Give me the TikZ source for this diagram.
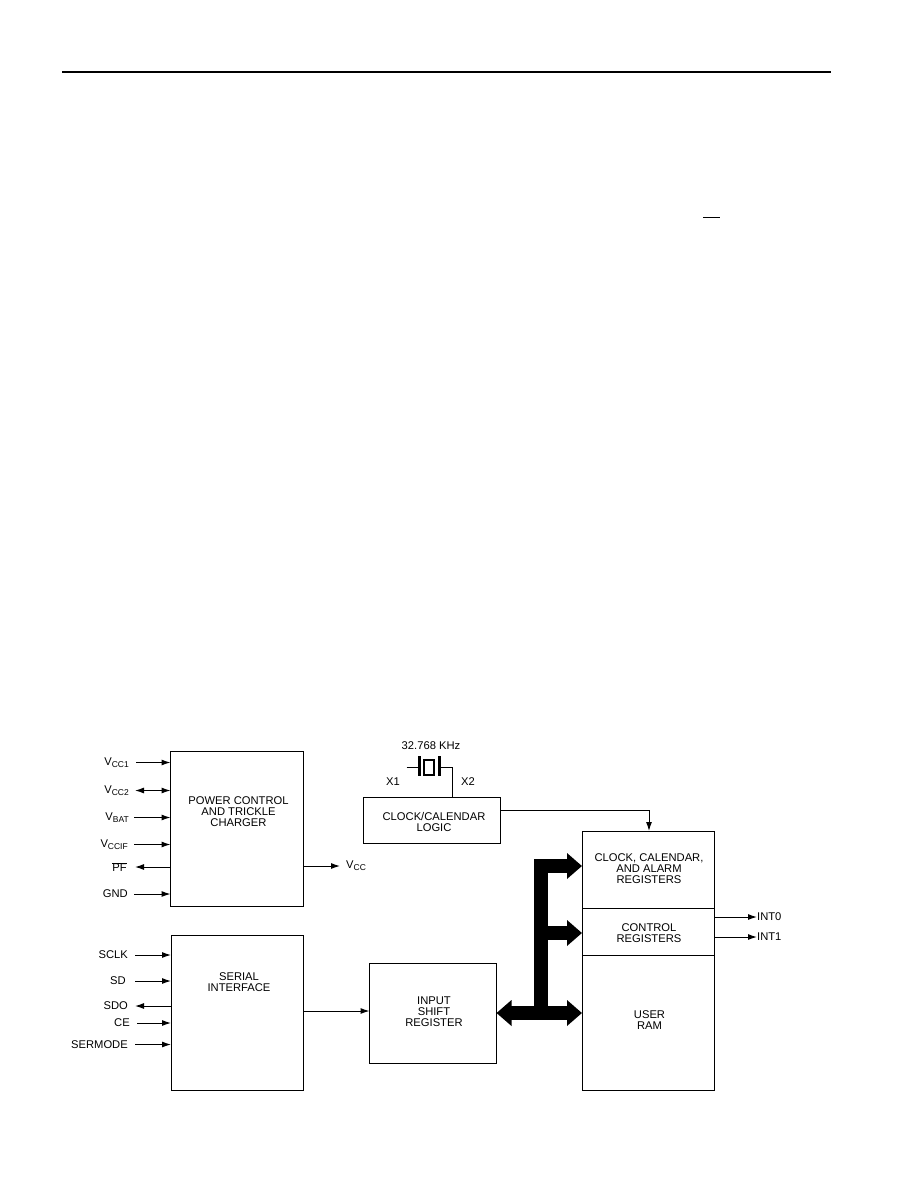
\documentclass[tikz,border=0pt]{standalone}
\usepackage{fontspec}
\setmainfont{Liberation Sans}
\usetikzlibrary{arrows.meta}
\newcommand{\txt}{\fontsize{11.2bp}{11bp}\selectfont}
\newcommand{\vsub}[1]{V\raisebox{-2.2bp}{\fontsize{8.5bp}{8.5bp}\selectfont #1}}
\tikzset{
  blockbox/.style={draw=black,line width=1bp,anchor=north west,inner sep=0pt,outer sep=0pt},
  blocktext/.style={align=center,font=\txt,inner sep=0pt},
  pinlabel/.style={anchor=east,font=\txt,inner sep=0pt},
  outlabel/.style={anchor=west,font=\txt,inner sep=0pt},
  wire/.style={line width=1bp,draw=black},
  pinin/.style={wire,-{Latex[length=9bp,width=6bp]}},
  pinboth/.style={wire,{Latex[length=9bp,width=6bp]}-{Latex[length=9bp,width=6bp]}},
  bus/.style={line width=14bp,draw=black,line join=miter},
  bushead/.style={-{Triangle[length=15bp,width=25bp]}},
  busheads/.style={{Triangle[length=15bp,width=25bp]}-{Triangle[length=15bp,width=25bp]}},
}
\begin{document}
\begin{tikzpicture}[x=1bp,y=-1bp]
\useasboundingbox (0,0) rectangle (918,1188);
\fill[white] (0,0) rectangle (918,1188);
% page rules
\coordinate (ruleL) at (62,72);
\coordinate (ruleR) at (831,72);
\draw[line width=2bp] (ruleL) -- (ruleR);
\coordinate (barL) at (703,217);
\coordinate (barR) at (720,217);
\draw[line width=1bp] (barL) -- (barR);
% blocks
\node[blockbox,minimum width=133bp,minimum height=155bp] (power) at (170.5,751.5) {};
\node[blockbox,minimum width=132bp,minimum height=155bp] (serial) at (171,935) {};
\node[blockbox,minimum width=137bp,minimum height=46bp] (clock) at (363.5,797) {};
\node[blockbox,minimum width=127bp,minimum height=100bp] (shift) at (369.5,963) {};
\node[blockbox,minimum width=132bp,minimum height=77.5bp] (regs) at (582,831) {};
\node[blockbox,minimum width=132bp,minimum height=46.5bp] (ctrl) at (582,908.5) {};
\node[blockbox,minimum width=132bp,minimum height=135bp] (ram) at (582,955) {};
% block texts
\node[blocktext] (powertext) at (238.5,811.5) {POWER CONTROL\\AND TRICKLE\\CHARGER};
\node[blocktext] (serialtext) at (239,982) {SERIAL\\INTERFACE};
\node[blocktext] (clocktext) at (434,822) {CLOCK/CALENDAR\\LOGIC};
\node[blocktext] (shifttext) at (434,1012) {INPUT\\SHIFT\\REGISTER};
\node[blocktext] (regstext) at (649,869) {CLOCK, CALENDAR,\\AND ALARM\\REGISTERS};
\node[blocktext] (ctrltext) at (649,933) {CONTROL\\REGISTERS};
\node[blocktext] (ramtext) at (649.5,1020) {USER\\RAM};
% power pins
\node[pinlabel] (vcc1) at (129,762.5) {\vsub{CC1}};
\node[pinlabel] (vcc2) at (129,790.5) {\vsub{CC2}};
\node[pinlabel] (vbat) at (129,817.5) {\vsub{BAT}};
\node[pinlabel] (vccif) at (128,844.5) {\vsub{CCIF}};
\node[pinlabel] (pf) at (127,867) {$\overline{\mbox{PF}}$};
\node[pinlabel] (gnd) at (128,894) {GND};
\draw[pinin] ([xshift=7bp]vcc1.east) -- (power.west |- vcc1.east);
\draw[pinboth] ([xshift=6bp]vcc2.east) -- (power.west |- vcc2.east);
\draw[pinin] ([xshift=5bp]vbat.east) -- (power.west |- vbat.east);
\draw[pinin] ([xshift=6bp]vccif.east) -- (power.west |- vccif.east);
\draw[pinin] (power.west |- pf.east) -- ([xshift=8bp]pf.east);
\draw[pinin] ([xshift=6bp]gnd.east) -- (power.west |- gnd.east);
% serial pins
\node[pinlabel] (sclk) at (128,955) {SCLK};
\node[pinlabel] (sd) at (126,981) {SD};
\node[pinlabel] (sdo) at (128,1006) {SDO};
\node[pinlabel] (ce) at (130,1023) {CE};
\node[pinlabel] (sermode) at (128,1044.5) {SERMODE};
\draw[pinin] ([xshift=7bp]sclk.east) -- (serial.west |- sclk.east);
\draw[pinin] ([xshift=9bp]sd.east) -- (serial.west |- sd.east);
\draw[pinin] (serial.west |- sdo.east) -- ([xshift=7bp]sdo.east);
\draw[pinin] ([xshift=7bp]ce.east) -- (serial.west |- ce.east);
\draw[pinin] ([xshift=7bp]sermode.east) -- (serial.west |- sermode.east);
% outputs
\node[outlabel] (vccout) at (346,866) {\vsub{CC}};
\draw[pinin] (power.east |- vccout.west) -- ([xshift=-6bp]vccout.west);
\coordinate (serialout) at (303,1011);
\draw[pinin] (serialout) -- (shift.west |- serialout);
\node[outlabel] (int0) at (757,917) {INT0};
\node[outlabel] (int1) at (757,937) {INT1};
\draw[pinin] (regs.east |- int0.west) -- (int0.west);
\draw[pinin] (regs.east |- int1.west) -- (int1.west);
% clock to registers
\coordinate (clockout) at (500.5,810);
\coordinate (clockbend) at (649,810);
\draw[wire,-{Latex[length=9bp,width=6bp]}] (clockout) -- (clockbend) -- (regs.north -| clockbend);
% crystal
\node[font=\txt,inner sep=0pt] (freq) at (431,746) {32.768 KHz};
\node[font=\txt,inner sep=0pt] (x1) at (393,782) {X1};
\node[font=\txt,inner sep=0pt] (x2) at (468,782) {X2};
\node[draw=black,line width=1.6bp,minimum width=10bp,minimum height=15bp,inner sep=0pt] (xtal) at (429,767.5) {};
\coordinate (plateLt) at (419.5,756);
\coordinate (plateLb) at (419.5,776);
\coordinate (plateRt) at (439,756);
\coordinate (plateRb) at (439,776);
\draw[line width=3bp] (plateLt) -- (plateLb);
\draw[line width=3bp] (plateRt) -- (plateRb);
\coordinate (leadL) at (406.5,767);
\coordinate (leadR) at (440,767);
\coordinate (leadB) at (452.5,767);
\draw[wire] (leadL) -- (plateLt |- leadL);
\draw[wire] (leadR) -- (leadB) -- (clock.north -| leadB);
% bus
\coordinate (busA) at (540.5,866);
\coordinate (busB) at (540.5,933);
\coordinate (busC) at (540.5,1013);
\draw[bus,bushead] ([yshift=7bp]busC) -- (busA) -- (regs.west |- busA);
\draw[bus,bushead] (busB) -- (ctrl.west |- busB);
\draw[bus,busheads] (shift.east |- busC) -- (ram.west |- busC);
\end{tikzpicture}
\end{document}
